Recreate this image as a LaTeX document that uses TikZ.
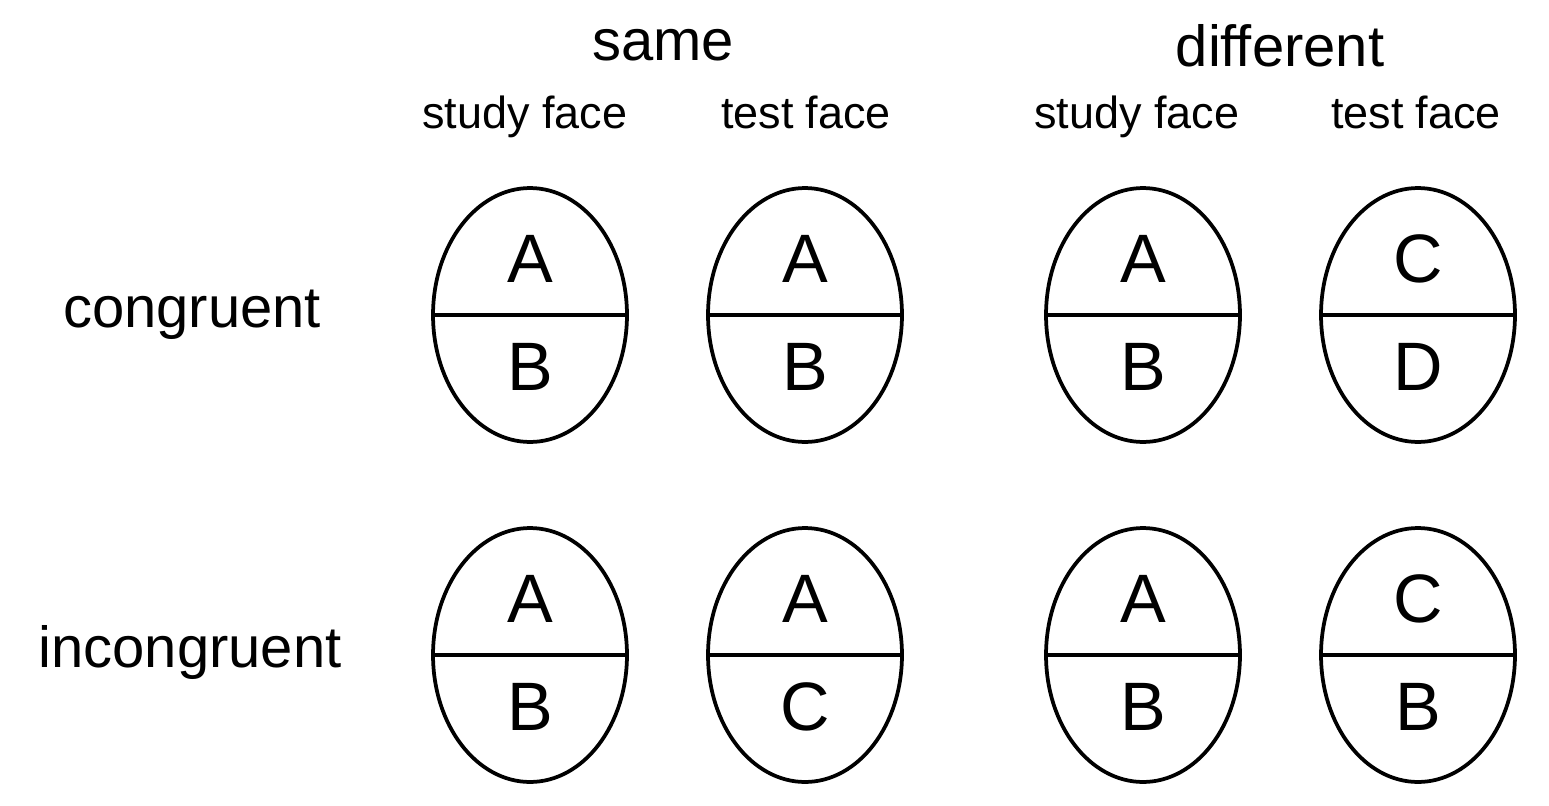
\documentclass[tikz,border=0pt]{standalone}
\usepackage{fontspec}
\setmainfont{Liberation Sans}
\usetikzlibrary{shapes.geometric}
\begin{document}
\begin{tikzpicture}[x=0.02cm,y=-0.02cm,
  face/.style={draw,ellipse,line width=0.075cm,minimum width=3.88cm,minimum height=5.08cm,inner sep=0pt,outer sep=0pt},
  half/.style={line width=0.075cm},
  letter/.style={font=\fontsize{39}{39}\selectfont,anchor=base,inner sep=0pt},
  cond/.style={font=\fontsize{33}{33}\selectfont,anchor=base,inner sep=0pt},
  col/.style={font=\fontsize{25.6}{25.6}\selectfont,anchor=base,inner sep=0pt}]
\useasboundingbox (0,0) rectangle (1549,805);
% headings
\node[cond] (same) at (663,60) {same};
\node[cond] (diff) at (1280,66) {different};
\node[col] (s1) at (525,128) {study face};
\node[col] (t1) at (806,128) {test face};
\node[col] (s2) at (1137,128) {study face};
\node[col] (t2) at (1416,128) {test face};
\node[cond] (cong) at (192,327) {congruent};
\node[cond] (incong) at (190,667) {incongruent};
% faces
\foreach \n/\x/\y/\top/\bot in {a/530/315/A/B, b/805/315/A/B, c/1143/315/A/B, d/1418/315/C/D,
  e/530/655/A/B, f/805/655/A/C, g/1143/655/A/B, h/1418/655/C/B}{
  \node[face] (\n) at (\x,\y) {};
  \draw[half] (\n.west) -- (\n.east);
  \node[letter] (\n top) at ([yshift=0.66cm]\n.center) {\top};
  \node[letter] (\n bot) at ([yshift=-1.52cm]\n.center) {\bot};
}
\end{tikzpicture}
\end{document}
